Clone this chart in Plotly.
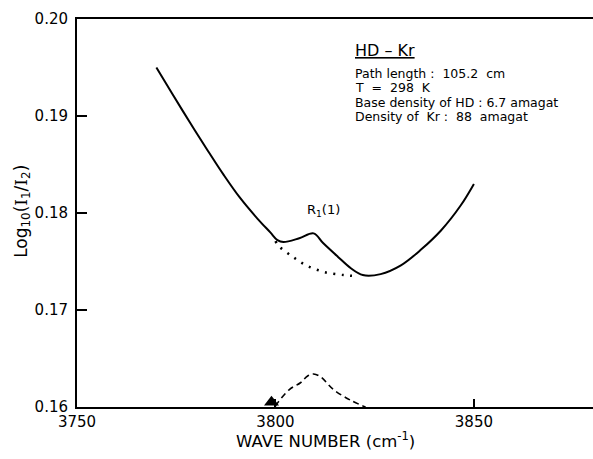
import plotly.graph_objects as go

# Solid curve: measured absorption profile
solid_x = [3770, 3774, 3778.5, 3783, 3787, 3791, 3795.5, 3798.7, 3800.5, 3802,
           3806, 3809.6, 3812, 3815.7, 3819, 3822, 3826.5, 3831.6, 3836.6,
           3841.7, 3846.7, 3850]
solid_y = [0.1950, 0.1923, 0.1893, 0.1864, 0.1839, 0.1816, 0.1794, 0.1780, 0.1772, 0.1770,
           0.1774, 0.1779, 0.1769, 0.1755, 0.1743, 0.1736, 0.1737, 0.1746, 0.1762,
           0.1782, 0.1808, 0.1830]

# Dotted curve: background under R1(1)
dot_x = [3800.0, 3800.8, 3804.3, 3807.8, 3812.4, 3817.2, 3820.5]
dot_y = [0.1771, 0.1766, 0.1755, 0.1746, 0.1739, 0.1736, 0.1735]

# Dashed curve: R1(1) line profile
dash_x = [3800.0, 3800.5, 3803.5, 3806.3, 3808.1, 3809.6, 3811.4, 3814.6, 3818.9, 3822.7]
dash_y = [0.1601, 0.1604, 0.1618, 0.1625, 0.1632, 0.1634, 0.1631, 0.1618, 0.1607, 0.1600]

# Filled triangle marker at the line position
tri_x = [3799.0]
tri_y = [0.16050]

x_ticks = [3750, 3800, 3850]
x_tick_labels = ["3750", "3800", "3850"]
y_ticks = [0.16, 0.17, 0.18, 0.19, 0.20]
y_tick_labels = ["0.16", "0.17", "0.18", "0.19", "0.20"]

info_title = "HD \u2013 Kr"
info_lines = ["Path length :  105.2  cm", "T  =  298  K",
              "Base density of HD : 6.7 amagat", "Density of  Kr :  88  amagat"]

FONT = "DejaVu Sans"
SERIF_I = "<span style='font-family:DejaVu Serif'>I</span>"

fig = go.Figure()
fig.add_trace(go.Scatter(x=solid_x, y=solid_y, mode="lines",
                         line=dict(color="black", width=2, shape="spline", smoothing=1.0),
                         showlegend=False))
fig.add_trace(go.Scatter(x=dot_x, y=dot_y, mode="lines",
                         line=dict(color="black", width=2.5, dash="2px,6.5px", shape="spline"),
                         showlegend=False))
fig.add_trace(go.Scatter(x=dash_x, y=dash_y, mode="lines",
                         line=dict(color="black", width=1.6, dash="6px,4px", shape="spline"),
                         showlegend=False))
fig.add_trace(go.Scatter(x=tri_x, y=tri_y, mode="markers",
                         marker=dict(symbol="triangle-up", size=13, color="black"),
                         cliponaxis=False, showlegend=False))

ann = []
ann.append(dict(text=info_title, x=0.535, y=0.918, xref="paper", yref="paper",
                xanchor="left", yanchor="middle", showarrow=False,
                font=dict(family=FONT, size=16, color="black", lineposition="under")))
for t, yy in zip(info_lines, [0.8590, 0.8222, 0.7854, 0.7486]):
    ann.append(dict(text=t, x=0.535, y=yy, xref="paper", yref="paper",
                    xanchor="left", yanchor="middle", showarrow=False,
                    font=dict(family=FONT, size=12.5, color="black")))
ann.append(dict(text="R<sub>1</sub>(1)", x=3812.1, y=0.1803, xref="x", yref="y",
                xanchor="center", yanchor="middle", showarrow=False,
                font=dict(family=FONT, size=13, color="black")))
ann.append(dict(text="WAVE NUMBER (cm<sup>-1</sup>)", x=0.481, y=-0.085,
                xref="paper", yref="paper", xanchor="center", yanchor="middle",
                showarrow=False, font=dict(family=FONT, size=16.5, color="black")))
ann.append(dict(text="Log<sub>10</sub>(" + SERIF_I + "<sub>1</sub>/" + SERIF_I + "<sub>2</sub>)",
                x=-0.107, y=0.505,
                xref="paper", yref="paper", xanchor="center", yanchor="middle",
                textangle=-90, showarrow=False,
                font=dict(family=FONT, size=17, color="black")))

fig.update_layout(
    width=593, height=459,
    margin=dict(l=77, r=0, t=19, b=52),
    paper_bgcolor="white", plot_bgcolor="white",
    annotations=ann,
    xaxis=dict(range=[3750, 3880], tickvals=x_ticks, ticktext=x_tick_labels,
               showgrid=False, zeroline=False, showline=True, linecolor="black",
               linewidth=2, mirror=True, ticks="inside", ticklen=8, tickwidth=1.5,
               tickcolor="black",
               tickfont=dict(family=FONT, size=15, color="black")),
    yaxis=dict(range=[0.16, 0.20], tickvals=y_ticks, ticktext=y_tick_labels,
               showgrid=False, zeroline=False, showline=True, linecolor="black",
               linewidth=2, ticks="inside", ticklen=10, tickwidth=1.5,
               tickcolor="black", ticklabelstandoff=4,
               tickfont=dict(family=FONT, size=15, color="black")),
)

fig.write_html("out.html", config={"displayModeBar": False},
               post_script="document.body.style.margin='0';document.body.style.overflow='hidden';")
